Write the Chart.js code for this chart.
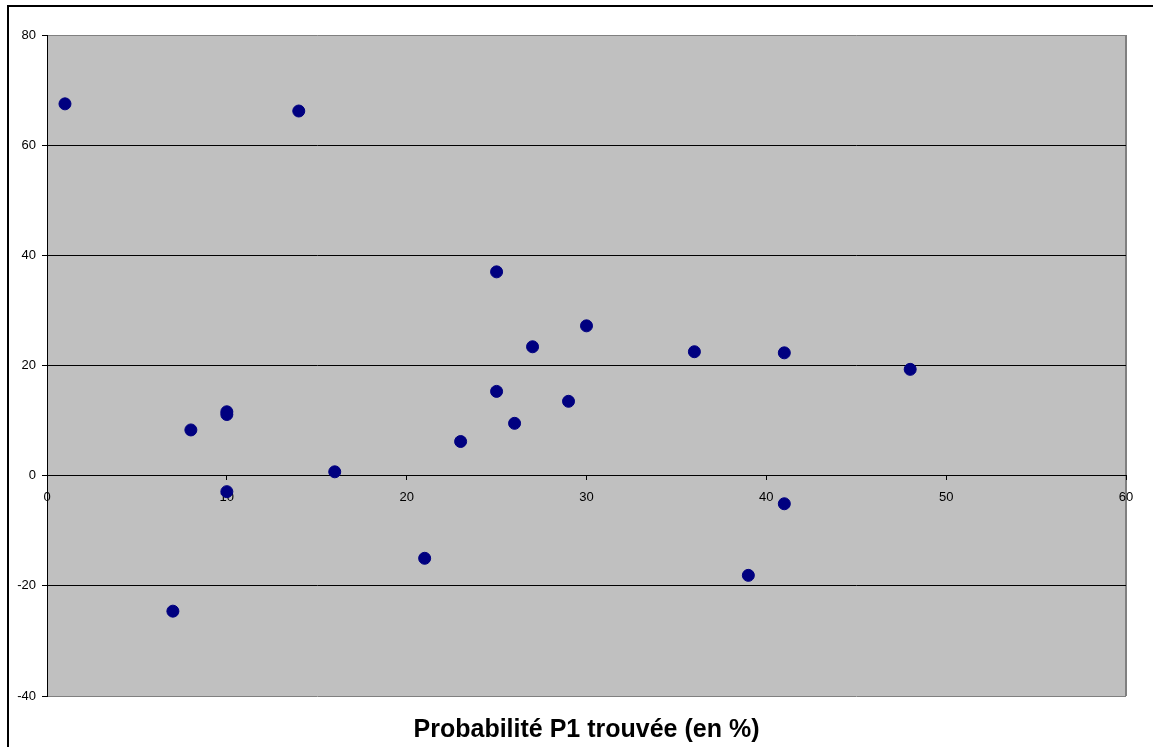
<!DOCTYPE html>
<html>
<head>
<meta charset="utf-8">
<script src="https://cdn.jsdelivr.net/npm/chart.js@4/dist/chart.umd.min.js"></script>
<style>
  html, body { margin: 0; padding: 0; background: #fff; }
  #wrap { position: relative; width: 1153px; height: 747px; }
  #frame { position: absolute; left: 7px; top: 5px; right: 0; bottom: 0;
           border-left: 2px solid #000; border-top: 2px solid #000; pointer-events: none; }
</style>
</head>
<body>
<div id="wrap">
  <canvas id="scatter" width="1153" height="747"></canvas>
  <div id="frame"></div>
</div>
<script>
// probabilité P1 trouvée (%)
const probaX = [1, 14, 25, 30, 27, 36, 41, 48, 25, 29, 10, 10, 26, 8, 23, 16, 10, 41, 21, 39, 7];
// écart
const ecartY = [67.5, 66.2, 37.0, 27.2, 23.4, 22.5, 22.3, 19.3, 15.3, 13.5, 11.6, 11.1, 9.5, 8.3, 6.2, 0.7, -2.9, -5.1, -15.0, -18.1, -24.6];
const xTitle = 'Probabilité P1 trouvée (en %)';

const points = probaX.map((x, i) => ({ x: x, y: ecartY[i] }));

const plotBg = {
    id: 'plotBg',
    beforeDraw(chart) {
        const a = chart.chartArea;
        const c = chart.ctx;
        c.save();
        c.fillStyle = '#c0c0c0';
        c.fillRect(a.left, a.top, a.right - a.left, a.bottom - a.top);
        c.strokeStyle = '#808080';
        c.lineWidth = 2;
        c.beginPath();
        c.moveTo(a.right, a.top);
        c.lineTo(a.right, a.bottom);
        c.stroke();
        c.restore();
    }
};

const ctx = document.getElementById('scatter');
const chart = new Chart(ctx, {
    type: 'scatter',
    data: {
        datasets: [{
            data: points,
            backgroundColor: '#000080',
            borderColor: '#000080',
            pointRadius: 6,
            pointHoverRadius: 6,
            xAxisID: 'x',
            yAxisID: 'y'
        }]
    },
    options: {
        responsive: false,
        animation: false,
        layout: { padding: { top: 35, right: 27, bottom: 0, left: 0 } },
        plugins: {
            legend: { display: false },
            tooltip: { enabled: false }
        },
        scales: {
            x: {
                type: 'linear',
                min: 0,
                max: 60,
                position: { y: 0 },
                ticks: {
                    stepSize: 10,
                    color: '#000',
                    padding: 10,
                    maxRotation: 0,
                    font: { family: "'Liberation Sans', Arial, sans-serif", size: 13 }
                },
                grid: { drawOnChartArea: false, drawTicks: true, tickLength: 4, color: '#000' },
                border: { color: '#000', width: 1 }
            },
            x2: {
                type: 'linear',
                min: 0,
                max: 60,
                position: 'bottom',
                ticks: { display: false },
                grid: { display: false },
                border: { display: false },
                title: {
                    display: true,
                    text: xTitle,
                    color: '#000',
                    padding: { top: 11, bottom: 2 },
                    font: { family: "'Liberation Sans', Arial, sans-serif", size: 25, weight: 'bold' }
                }
            },
            y: {
                type: 'linear',
                min: -40,
                max: 80,
                position: 'left',
                afterFit(scale) { scale.width = 47; },
                ticks: {
                    stepSize: 20,
                    color: '#000',
                    padding: 6,
                    font: { family: "'Liberation Sans', Arial, sans-serif", size: 13 }
                },
                grid: {
                    color: (c) => (c.tick && (c.tick.value === 80 || c.tick.value === -40)) ? '#808080' : '#000',
                    tickColor: '#000',
                    tickLength: 5,
                    lineWidth: 1
                },
                border: { color: '#000', width: 1 }
            }
        }
    },
    plugins: [plotBg]
});
</script>
</body>
</html>
